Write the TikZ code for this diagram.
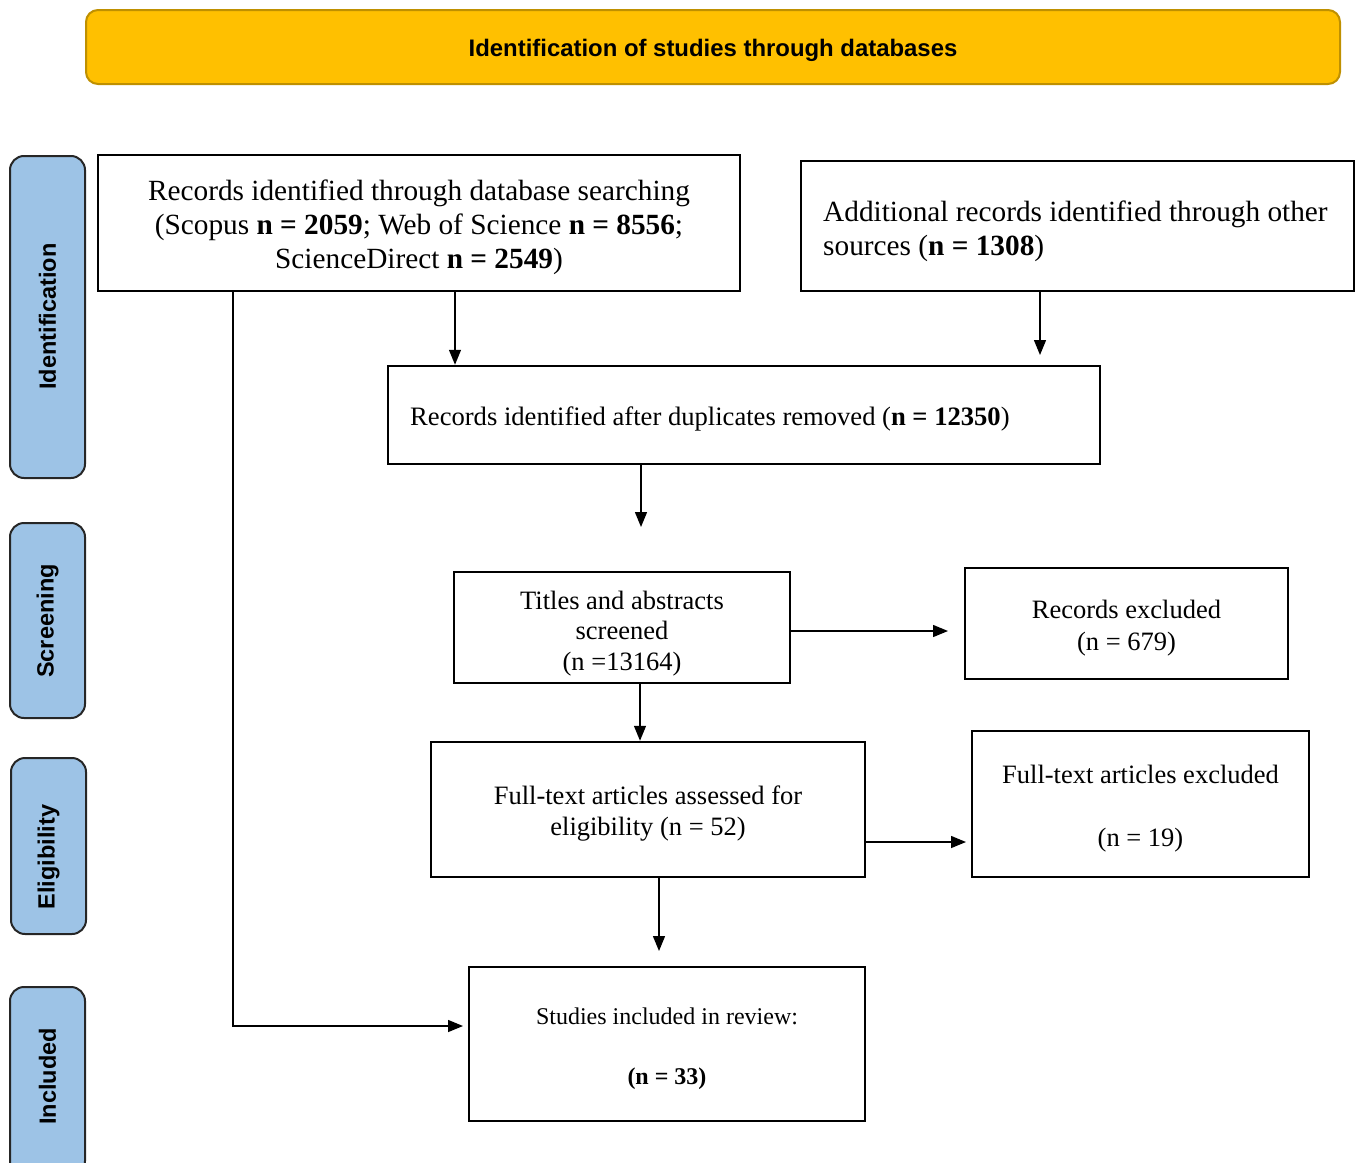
\documentclass[tikz,border=0pt]{standalone}
\usepackage{fontspec}
\setmainfont{Liberation Serif}
\setsansfont{Liberation Sans}
\usetikzlibrary{arrows.meta}
\definecolor{gold}{HTML}{FFC000}
\definecolor{goldline}{HTML}{BF9000}
\definecolor{phase}{HTML}{9DC3E6}
\begin{document}
\begin{tikzpicture}[x=1pt,y=-1pt,
  box/.style={draw=black, line width=2.5pt, inner sep=0pt},
  txt/.style={inner sep=0pt, align=center},
  arr/.style={line width=1.4pt, -{Triangle[length=15pt,width=12pt]}},
  phasebox/.style={draw=black!85, line width=2pt, fill=phase, rounded corners=14pt,
    minimum width=75pt, inner sep=0pt},
  phasetext/.style={rotate=90, inner sep=0pt,
    font=\sffamily\bfseries\fontsize{23.5}{28}\selectfont},
  big/.style={font=\fontsize{29.3}{34}\selectfont},
  mid/.style={font=\fontsize{26.5}{31}\selectfont}]
\useasboundingbox (0,0) rectangle (1360,1162);
\clip (0,0) rectangle (1360,1162);

% banner
\node[draw=goldline, fill=gold, line width=2pt, rounded corners=12pt,
  minimum width=1254pt, minimum height=74pt, inner sep=0pt] (T) at (713,47) {};
\node[txt, font=\sffamily\bfseries\fontsize{23.9}{28}\selectfont, yshift=-3pt] (Tt) at (T)
  {Identification of studies through databases};

% phase labels
\node[phasebox, minimum height=322pt] (P1) at (47.5,317) {};
\node[phasetext] (P1t) at (47.5,316.5) {Identification};
\node[phasebox, minimum height=195pt] (P2) at (47.5,620.5) {};
\node[phasetext] (P2t) at (47.5,621) {Screening};
\node[phasebox, minimum height=176pt] (P3) at (48.5,846) {};
\node[phasetext] (P3t) at (48.5,857) {Eligibility};
\node[phasebox, minimum height=188pt] (P4) at (47.5,1081) {};
\node[phasetext] (P4t) at (47.5,1076.5) {Included};

% boxes
\node[box, minimum width=642pt, minimum height=136pt] (A) at (419,223) {};
\node[txt, big, yshift=-4pt] (At) at (A)
  {Records identified through database searching\\
   (Scopus \textbf{n = 2059}; Web of Science \textbf{n = 8556};\\
   ScienceDirect \textbf{n = 2549})};

\node[box, minimum width=553pt, minimum height=130pt] (B) at (1077.5,226) {};
\node[big, align=left, anchor=west, inner sep=0pt] (Bt) at (823,231)
  {Additional records identified through other\\sources (\textbf{n = 1308})};

\node[box, minimum width=712pt, minimum height=98pt] (C) at (744,415) {};
\node[anchor=west, inner sep=0pt, font=\fontsize{26.6}{31}\selectfont] (Ct) at (410,419)
  {Records identified after duplicates removed (\textbf{n = 12350})};

\node[box, minimum width=336pt, minimum height=111pt] (D) at (622,627.5) {};
\node[txt, font=\fontsize{26.5}{30.5}\selectfont, yshift=-6pt] (Dt) at (D)
  {Titles and abstracts\\screened\\(n =13164)};

\node[box, minimum width=323pt, minimum height=111pt] (E) at (1126.5,623.5) {};
\node[txt, font=\fontsize{26.5}{32}\selectfont, yshift=-5pt] (Et) at (E)
  {Records excluded\\(n = 679)};

\node[box, minimum width=434pt, minimum height=135pt] (F) at (648,809.5) {};
\node[txt, mid, yshift=-4pt] (Ft) at (F)
  {Full-text articles assessed for\\eligibility (n = 52)};

\node[box, minimum width=337pt, minimum height=146pt] (G) at (1140.5,804) {};
\node[txt, font=\fontsize{26.5}{31.5}\selectfont, yshift=-5pt] (Gt) at (G)
  {Full-text articles excluded\\[31.5pt](n = 19)};

\node[box, minimum width=396pt, minimum height=154pt] (H) at (667,1044) {};
\node[txt, font=\fontsize{24}{24}\selectfont, yshift=-5pt] (Ht) at (H)
  {Studies included in review:\\[36pt]\textbf{(n = 33)}};

% helper coordinates
\coordinate (x455) at (455,0);
\coordinate (x640) at (640,0);
\coordinate (x233) at (233,0);
\coordinate (eB) at (1040,355);
\coordinate (eC) at (641,527);
\coordinate (eD) at (948,631);
\coordinate (eF) at (966,842);
\coordinate (eF2) at (659,951);
\coordinate (eA) at (463,1026);

% connectors
\draw[arr] (A.south -| x455) -- (C.north -| x455);
\draw[arr] (B.south -| eB) -- (eB);
\draw[arr] (C.south -| eC) -- (eC);
\draw[arr] (D.east |- eD) -- (eD);
\draw[arr] (D.south -| x640) -- (F.north -| x640);
\draw[arr] (F.east |- eF) -- (eF);
\draw[arr] (F.south -| eF2) -- (eF2);
\draw[arr] (A.south -| x233) |- (eA);
\end{tikzpicture}
\end{document}
